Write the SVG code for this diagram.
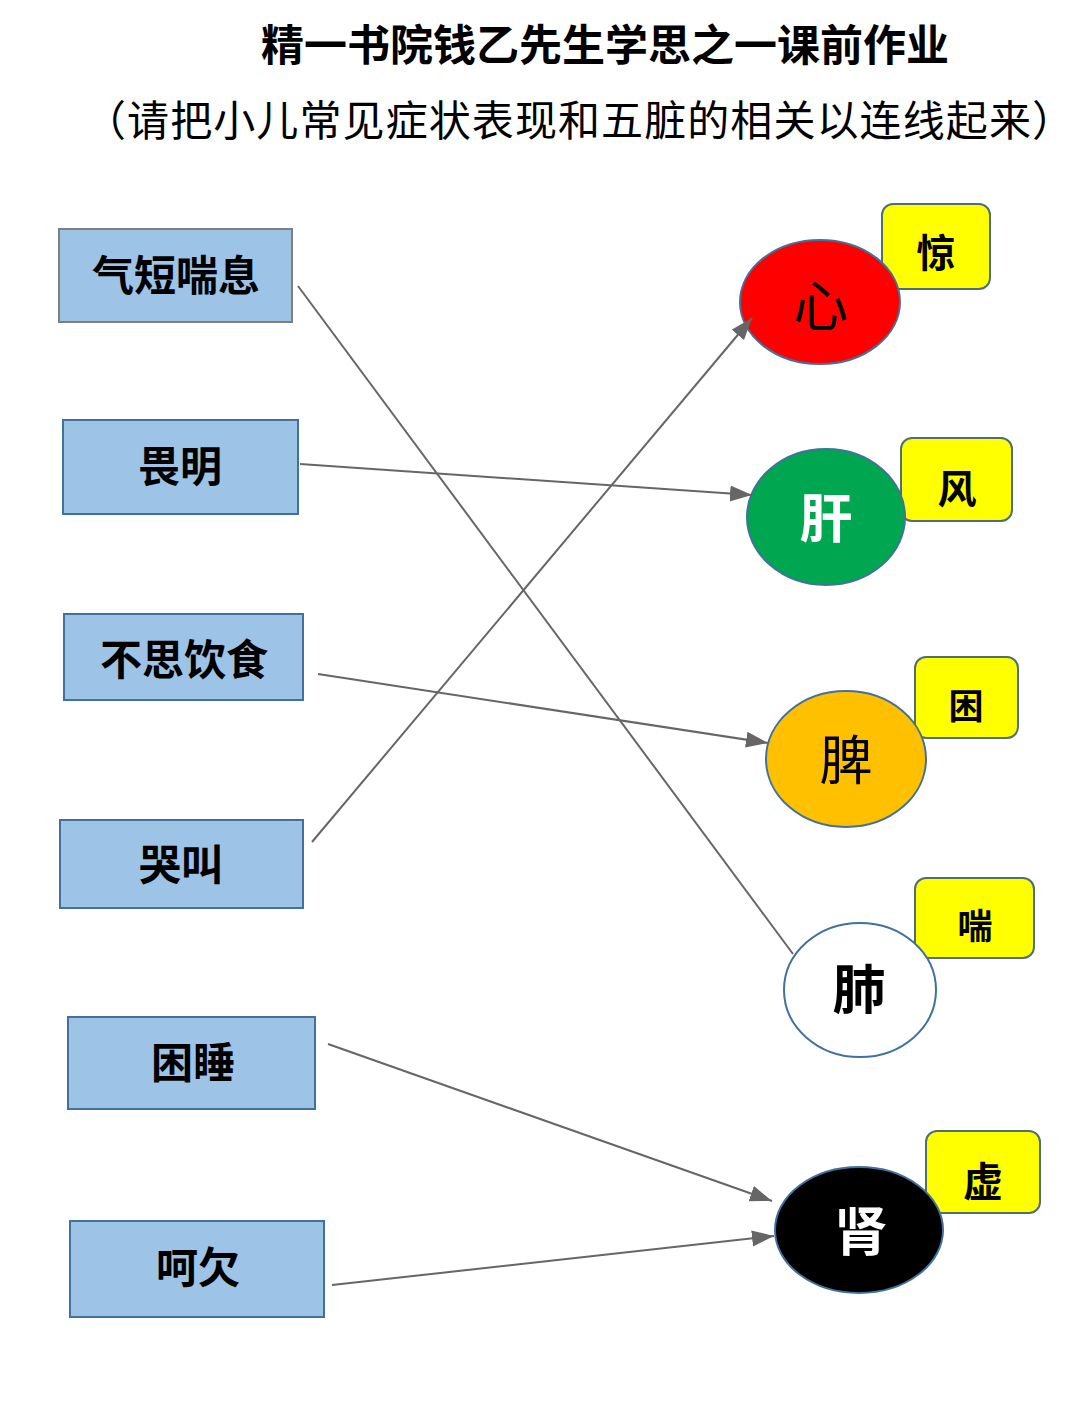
<svg xmlns="http://www.w3.org/2000/svg" width="1080" height="1415" viewBox="0 0 1080 1415">
<style>
text{font-family:"Noto Sans CJK SC","Noto Sans",sans-serif;text-anchor:middle}
.title{font-size:43px;font-weight:bold;fill:#000}
.sub{font-size:42px;fill:#000}
.box rect{fill:#9dc3e6;stroke:#41719c;stroke-width:2}
.box text{font-size:42px;font-weight:bold;fill:#000}
.tag rect{fill:#ffff00;stroke:#4f7070;stroke-width:2}
.tag text{font-weight:bold;fill:#000}
.organ ellipse{stroke:#41719c;stroke-width:2}
.organ text{font-size:53px}
.conn line{stroke:#666;stroke-width:2}
</style>
<defs>
<marker id="arrow" markerUnits="userSpaceOnUse" markerWidth="24" markerHeight="18" refX="22" refY="8" orient="auto">
<path d="M0,0 L22,8 L0,16 z" fill="#666"/>
</marker>
</defs>
<text class="title" x="605" y="61">精一书院钱乙先生学思之一课前作业</text>
<text class="sub" x="579" y="136" textLength="990" lengthAdjust="spacing">（请把小儿常见症状表现和五脏的相关以连线起来）</text>

<g id="box-qiduan" class="box"><rect x="59" y="229" width="233" height="93" style="stroke:#7f7f7f"/><text x="176" y="291">气短喘息</text></g>
<g id="box-weiming" class="box"><rect x="63" y="420" width="235" height="94"/><text x="180" y="482">畏明</text></g>
<g id="box-busi" class="box"><rect x="64" y="614" width="239" height="86"/><text x="184" y="675">不思饮食</text></g>
<g id="box-kujiao" class="box"><rect x="60" y="820" width="243" height="88"/><text x="181" y="880">哭叫</text></g>
<g id="box-kunshui" class="box"><rect x="68" y="1017" width="247" height="92"/><text x="193" y="1078">困睡</text></g>
<g id="box-heqian" class="box"><rect x="70" y="1221" width="254" height="96"/><text x="198" y="1283">呵欠</text></g>

<g id="tag-jing" class="tag"><rect x="882" y="204" width="108" height="85" rx="11"/><text x="936" y="267" style="font-size:39px">惊</text></g>
<g id="tag-feng" class="tag"><rect x="901" y="438" width="111" height="83" rx="11"/><text x="957" y="503" style="font-size:39px">风</text></g>
<g id="tag-kun" class="tag"><rect x="915" y="657" width="103" height="81" rx="11"/><text x="966" y="719" style="font-size:35px">困</text></g>
<g id="tag-chuan" class="tag"><rect x="915" y="878" width="119" height="80" rx="11"/><text x="975" y="939" style="font-size:35px">喘</text></g>
<g id="tag-xu" class="tag"><rect x="926" y="1131" width="114" height="82" rx="11"/><text x="983" y="1196" style="font-size:40px">虚</text></g>

<g id="organ-xin" class="organ"><ellipse cx="820" cy="302" rx="80" ry="62" fill="#ff0000"/><text x="821" y="326" fill="#000" style="font-size:55px">心</text></g>
<g id="organ-gan" class="organ"><ellipse cx="826" cy="517" rx="79" ry="68" fill="#00a650"/><text x="826" y="538" fill="#fff" font-weight="bold">肝</text></g>
<g id="organ-pi" class="organ"><ellipse cx="846" cy="759" rx="80" ry="68" fill="#ffc000"/><text x="846" y="780" fill="#000">脾</text></g>
<g id="organ-fei" class="organ"><ellipse cx="860" cy="990" rx="76" ry="67" fill="#ffffff"/><text x="859" y="1009" fill="#000" font-weight="bold">肺</text></g>
<g id="organ-shen" class="organ"><ellipse cx="859" cy="1230" rx="84" ry="63" fill="#000000" stroke="#1f3864"/><text x="861" y="1251" fill="#fff" font-weight="bold">肾</text></g>

<g id="connectors" class="conn">
<line x1="298" y1="286" x2="793" y2="954"/>
<line x1="300" y1="464" x2="752" y2="495" marker-end="url(#arrow)"/>
<line x1="318" y1="674" x2="768" y2="743" marker-end="url(#arrow)"/>
<line x1="312" y1="842" x2="752" y2="318" marker-end="url(#arrow)"/>
<line x1="328" y1="1044" x2="772" y2="1201" marker-end="url(#arrow)"/>
<line x1="332" y1="1285" x2="774" y2="1236" marker-end="url(#arrow)"/>
</g>
</svg>
